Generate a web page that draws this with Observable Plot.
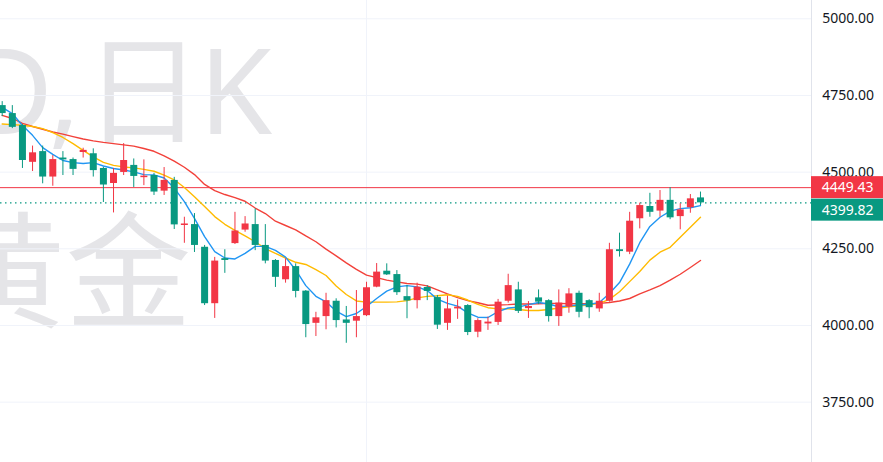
<!DOCTYPE html>
<html>
<head>
<meta charset="utf-8">
<script src="https://cdn.jsdelivr.net/npm/d3@7"></script>
<script src="https://cdn.jsdelivr.net/npm/@observablehq/plot@0.6"></script>
<style>
html, body { margin: 0; padding: 0; background: #ffffff; overflow: hidden; }
</style>
</head>
<body>
<div id="chart"></div>
<script>
// ---- data (daily candles, index 0..69) ----
const opens = [4717,4691,4652,4532,4567,4484,4546,4541,4564,4560, 4512,4463,4499,4522,4482,4489,4438,4473,4326,4329, 4255,4071,4218,4267,4311,4329,4261,4212,4149,4192, 4112,4007,4029,4079,4018,4014,4032,4125,4177,4166, 4094,4081,4124,4091,4007,4054,4065,3978,4005,4010, 4079,4116,4055,4090,4081,4029,4060,4105,4081,4054, 4079,4247,4239,4348,4388,4373,4408,4355,4384,4416];
const closes = [4691,4646,4538,4563,4484,4541,4540,4509,4571,4505, 4458,4496,4538,4486,4487,4435,4473,4328,4331,4261, 4071,4210,4212,4308,4331,4261,4210,4157,4192,4111, 4003,4025,4081,4016,4007,4029,4123,4174,4165,4107, 4080,4125,4111,4001,4054,4060,3977,4016,4011,4076, 4130,4046,4062,4076,4029,4073,4103,4043,4058,4079, 4247,4241,4340,4391,4369,4408,4351,4377,4413,4399.82];
const highs = [4730,4717,4655,4585,4585,4554,4567,4546,4578,4576, 4516,4512,4593,4543,4540,4496,4515,4483,4353,4365, 4261,4222,4247,4369,4355,4380,4329,4215,4217,4201, 4114,4043,4105,4087,4062,4114,4141,4202,4201,4179, 4130,4138,4130,4098,4096,4083,4068,4022,4027,4085, 4167,4141,4078,4116,4084,4116,4120,4112,4084,4105, 4268,4301,4369,4399,4431,4440,4449.43,4397,4427,4435];
const lows = [4681,4642,4512,4502,4462,4454,4489,4489,4546,4484, 4401,4367,4489,4450,4456,4424,4424,4313,4268,4238, 4065,4023,4170,4264,4304,4244,4201,4124,4138,4090, 3960,3964,3986,3992,3942,3960,4029,4123,4163,4098, 4022,4054,4081,3987,3984,4020,3967,3960,3984,4000, 4073,4039,4023,4068,4011,3997,4040,4025,4022,4043, 4076,4223,4231,4315,4353,4353,4345,4312,4366,4391];

// moving averages
const ma5 = [4711,4691,4652,4620,4580,4558,4538,4531,4528,4531, 4520,4512,4507,4501,4492,4491,4481,4448,4404,4349, 4290,4241,4220,4217,4235,4258,4258,4245,4223,4181, 4130,4095,4077,4047,4029,4039,4062,4088,4112,4126, 4130,4126,4114,4086,4072,4063,4041,4027,4026,4045, 4057,4060,4068,4075,4070,4061,4064,4067,4069,4075, 4104,4140,4200,4270,4323,4353,4373,4381,4384,4391];
const ma10 = [4657,4655,4653,4649,4642,4629,4613,4593,4571,4550, 4532,4522,4517,4514,4509,4503,4490,4475,4450,4420, 4388,4355,4330,4310,4292,4273,4251,4235,4220,4206, 4199,4182,4163,4129,4101,4080,4076,4076,4076,4077, 4081,4090,4095,4097,4100,4095,4083,4069,4058,4054, 4054,4052,4049,4049,4052,4057,4061,4064,4067,4072, 4085,4110,4143,4176,4213,4239,4255,4288,4320,4353];
const ma20 = [4685,4675,4659,4649,4640,4631,4624,4616,4608,4602, 4597,4593,4589,4585,4577,4568,4553,4536,4516,4492, 4460,4440,4427,4417,4405,4383,4365,4340,4326,4312, 4292,4273,4249,4227,4204,4183,4164,4156,4148,4142, 4137,4135,4129,4116,4103,4091,4081,4074,4066,4067, 4068,4070,4070,4071,4072,4072,4071,4071,4071,4072, 4075,4080,4088,4103,4116,4130,4148,4167,4189,4212];

const yTicks = [3750, 4000, 4250, 4500, 4750, 5000];
const timeGrid = [36];
const refPrice = 4449.43;
const lastPrice = 4399.82;
const watermarkTop = ["D,", " ", "日", "K"];   // reads "D, 日K"
const watermarkBottom = "黄金";

// ---- styles ----
const UP = "#f23645", DOWN = "#089981";
const WM_COLOR = "#e5e5e8";
const xDomain = [-0.168, 79.97];
const yDomain = [3553.2, 5059.7];

const candles = opens.map((o, i) => ({
  i, open: o, close: closes[i], high: highs[i], low: lows[i],
  dir: closes[i] >= o ? "up" : "down"
}));
const maRows = (arr) => arr.map((v, i) => ({i, v}));

const plot = Plot.plot({
  width: 883,
  height: 462,
  marginLeft: 0,
  marginRight: 72,
  marginTop: 0,
  marginBottom: 0,
  x: {domain: xDomain, axis: null},
  y: {domain: yDomain, axis: null},
  color: {domain: ["up", "down"], range: [UP, DOWN]},
  style: {fontFamily: "'Noto Sans', sans-serif", fontSize: "14px", color: "#131722", background: "#ffffff"},
  marks: [
    Plot.text([watermarkBottom], {frameAnchor: "top-left", textAnchor: "end", lineAnchor: "bottom", dx: 191, dy: 317, fontSize: 126, fill: WM_COLOR, fontFamily: "'Noto Sans CJK SC', sans-serif"}),
    Plot.gridY(yTicks, {stroke: "#f0f3fa", strokeOpacity: 1}),
    Plot.gridX(timeGrid, {stroke: "#f0f3fa", strokeOpacity: 1}),
    Plot.ruleX([xDomain[1]], {stroke: "#e0e3eb", strokeWidth: 1}),
    Plot.axisY(yTicks, {anchor: "right", tickSize: 0, tickPadding: 10.7, tickFormat: d => d.toFixed(2), fontSize: 14, fill: "#131722"}),
    Plot.ruleY([refPrice], {stroke: UP, strokeWidth: 1}),
    Plot.ruleY([lastPrice], {stroke: DOWN, strokeWidth: 1.3, strokeDasharray: "1.5,3.5"}),
    Plot.line(maRows(ma20), {x: "i", y: "v", stroke: "#f2413a", strokeWidth: 1.4}),
    Plot.line(maRows(ma10), {x: "i", y: "v", stroke: "#ffbb00", strokeWidth: 1.4}),
    Plot.line(maRows(ma5), {x: "i", y: "v", stroke: "#2196f3", strokeWidth: 1.4}),
    Plot.ruleX(candles, {x: "i", y1: "low", y2: "high", stroke: "dir", strokeWidth: 1}),
    Plot.ruleX(candles, {x: "i", y1: "open", y2: "close", stroke: "dir", strokeWidth: 7})
  ]
});

const xs = plot.scale("x"), ys = plot.scale("y");
const svg = d3.select(plot);

// top watermark line (behind everything), glyph groups placed to match the reference spacing
const firstG = plot.querySelector("g");
const wm = document.createElementNS("http://www.w3.org/2000/svg", "text");
plot.insertBefore(wm, firstG);
const wmSel = d3.select(wm)
  .attr("y", 134).attr("font-size", 118).attr("fill", WM_COLOR)
  .attr("text-anchor", "start")
  .attr("font-family", "'Noto Sans', 'Noto Sans CJK SC', sans-serif");
const wmX = [-33, 80, 84, 199];
const wmSize = [118, 1, 118, 118];
watermarkTop.forEach((t, k) => wmSel.append("tspan").attr("x", wmX[k]).attr("font-size", wmSize[k]).text(t));

// price labels on the axis
const axisX = xs.apply(xDomain[1]);
const boxH = 22, boxW = 883 - axisX;
const refTop = ys.apply(refPrice) - boxH / 2;
const lastTop = Math.max(ys.apply(lastPrice) - boxH / 2, refTop + boxH + 0.5);
[[refPrice, refTop, UP], [lastPrice, lastTop, DOWN]].forEach(([v, top, c]) => {
  const g = svg.append("g").attr("text-anchor", "start");
  g.append("rect").attr("x", axisX).attr("y", top).attr("width", boxW).attr("height", boxH).attr("fill", c);
  g.append("text").attr("x", axisX + 10.7).attr("y", top + boxH / 2).attr("dy", "0.35em")
    .attr("text-anchor", "start")
    .attr("fill", "#ffffff").attr("font-size", 14).attr("font-family", "'Noto Sans', sans-serif")
    .text(v.toFixed(2));
});

document.getElementById("chart").appendChild(plot);
</script>
</body>
</html>
